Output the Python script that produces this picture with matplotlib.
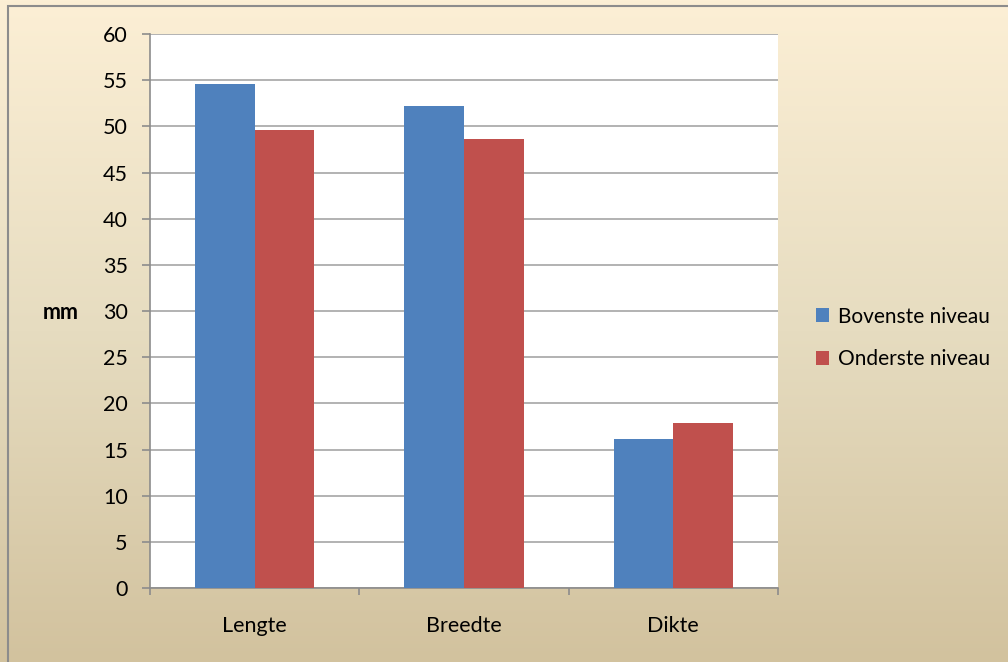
import numpy as np
import matplotlib
matplotlib.use("Agg")
import matplotlib.pyplot as plt
from matplotlib.patches import Rectangle
from matplotlib.colors import LinearSegmentedColormap

# data
categories = ["Lengte", "Breedte", "Dikte"]
bovenste = [54.6, 52.2, 16.1]
onderste = [49.6, 48.6, 17.9]
series_names = ["Bovenste niveau", "Onderste niveau"]

plt.rcParams["font.family"] = ["Lato", "DejaVu Sans"]

W, H = 1008, 662
fig = plt.figure(figsize=(W / 100, H / 100), dpi=100)

# background gradient (cream -> tan)
bg = fig.add_axes([0, 0, 1, 1], zorder=-10)
cmap = LinearSegmentedColormap.from_list("bg", ["#D2C29E", "#E6DCC0", "#FCEFD5"])
grad = np.linspace(0, 1, 256).reshape(-1, 1)
bg.imshow(grad, aspect="auto", cmap=cmap, origin="lower", extent=[0, 1, 0, 1])
bg.add_patch(Rectangle((8 / W, -0.1), 1.2, 1 - 6 / H + 0.1, fill=False,
                       edgecolor="#8C8C8C", lw=1.5))
bg.set_xlim(0, 1)
bg.set_ylim(0, 1)
bg.axis("off")

# plot area
ax = fig.add_axes([150 / W, 1 - 588 / H, (778 - 150) / W, (588 - 34) / H])
ax.set_facecolor("white")

x = np.arange(len(categories))
width = 1 / 3.5
ax.bar(x - width / 2, bovenste, width, color="#4F81BD", label=series_names[0], zorder=3)
ax.bar(x + width / 2, onderste, width, color="#C0504D", label=series_names[1], zorder=3)

ax.set_xlim(-0.5, 2.5)
ax.set_ylim(0, 60)
ax.set_yticks(np.arange(0, 61, 5))
ax.yaxis.grid(True, color="#A6A6A6", lw=1.2, zorder=0)

ax.set_xticks(x)
ax.set_xticklabels(categories, fontsize=15.5)
ax.tick_params(axis="x", length=0, pad=20)
ax.set_xticks([-0.5, 0.5, 1.5, 2.5], minor=True)
ax.tick_params(axis="x", which="minor", length=5, color="#8C8C8C", width=1.2)
ax.tick_params(axis="y", labelsize=15.5, length=6, color="#8C8C8C", width=1.2, pad=10)

for s in ["top", "right"]:
    ax.spines[s].set_visible(False)
for s in ["left", "bottom"]:
    ax.spines[s].set_color("#8C8C8C")
    ax.spines[s].set_linewidth(1.2)

fig.text(61 / W, 1 - 312 / H, "mm", fontsize=15.5, fontweight="bold",
         ha="center", va="center")

leg = ax.legend(loc="center left", bbox_to_anchor=(797 / W, 1 - 338 / H),
                bbox_transform=fig.transFigure, frameon=False,
                fontsize=15, handlelength=0.65, handleheight=0.65,
                handletextpad=0.4, labelspacing=1.1)

fig.savefig("out.png", dpi=100)
